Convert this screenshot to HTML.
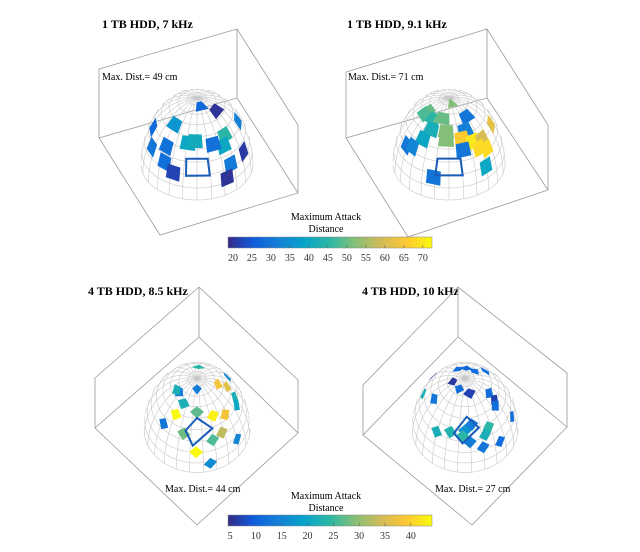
<!DOCTYPE html>
<html><head><meta charset="utf-8">
<style>
html,body{margin:0;padding:0;background:#fff;}
svg{display:block;font-family:"Liberation Serif",serif;}
</style></head>
<body>
<svg id="fig" width="640" height="552" viewBox="0 0 640 552" xmlns="http://www.w3.org/2000/svg">
<defs>
<linearGradient id="parula" x1="0" x2="1" y1="0" y2="0">
<stop offset="0" stop-color="#352a87"/><stop offset="0.125" stop-color="#0f5cdd"/>
<stop offset="0.25" stop-color="#1481d6"/><stop offset="0.375" stop-color="#06a4ca"/>
<stop offset="0.5" stop-color="#2eb7a4"/><stop offset="0.625" stop-color="#87bf77"/>
<stop offset="0.75" stop-color="#d1bb59"/><stop offset="0.875" stop-color="#fec832"/>
<stop offset="1" stop-color="#f9fb0e"/>
</linearGradient>
</defs>
<g>
<text x="102" y="28" font-size="12" font-weight="bold">1 TB HDD, 7 kHz</text>
<polyline fill="none" stroke="#9a9a9a" stroke-width="0.8" points="99,138 99,69 237,29 237,98 99,138 160,235 298,193 298,125 237,29"/>
<line x1="237" y1="98" x2="298" y2="193" stroke="#9a9a9a" stroke-width="0.8"/>
<g id="dome1"></g>
<text x="102" y="80" font-size="10">Max. Dist.= 49 cm</text>
</g>
<g>
<text x="347" y="28" font-size="12" font-weight="bold">1 TB HDD, 9.1 kHz</text>
<polyline fill="none" stroke="#9a9a9a" stroke-width="0.8" points="346,138 346,72 487,29 487,98 346,138 408,237 548,190 548,125 487,29"/>
<line x1="487" y1="98" x2="548" y2="190" stroke="#9a9a9a" stroke-width="0.8"/>
<g id="dome2"></g>
<text x="348" y="80" font-size="10">Max. Dist.= 71 cm</text>
</g>
<g>
<text x="88" y="295" font-size="12" font-weight="bold">4 TB HDD, 8.5 kHz</text>
<polyline fill="none" stroke="#9a9a9a" stroke-width="0.8" points="95,428 95,378 199,287 298,380 298,433 197,525 95,428 199,337 298,433"/>
<line x1="199" y1="287" x2="199" y2="337" stroke="#9a9a9a" stroke-width="0.8"/>
<g id="dome3"></g>
<text x="165" y="492" font-size="10">Max. Dist.= 44 cm</text>
</g>
<g>
<text x="362" y="295" font-size="12" font-weight="bold">4 TB HDD, 10 kHz</text>
<polyline fill="none" stroke="#9a9a9a" stroke-width="0.8" points="363,435 363,385 458,287 567,373 567,427 472,525 363,435 458,337 567,427"/>
<line x1="458" y1="287" x2="458" y2="337" stroke="#9a9a9a" stroke-width="0.8"/>
<g id="dome4"></g>
<text x="435" y="492" font-size="10">Max. Dist.= 27 cm</text>
</g>
<g>
<text x="326" y="220" font-size="10" text-anchor="middle">Maximum Attack</text>
<text x="326" y="232" font-size="10" text-anchor="middle">Distance</text>
<rect x="228" y="237" width="204" height="11" fill="url(#parula)" stroke="#888" stroke-width="0.5"/>
<g id="cbticks1"></g>
</g>
<g>
<text x="326" y="499" font-size="10" text-anchor="middle">Maximum Attack</text>
<text x="326" y="511" font-size="10" text-anchor="middle">Distance</text>
<rect x="228" y="515" width="204" height="11" fill="url(#parula)" stroke="#888" stroke-width="0.5"/>
<g id="cbticks2"></g>
</g>
</svg>
<script>
// Colour scales
const topTicks = [20,25,30,35,40,45,50,55,60,65,70];
const topClim = [18.7, 72.4];
const botTicks = [5,10,15,20,25,30,35,40];
const botClim = [4.6, 44.1];

// Panel 1: 1 TB, 7 kHz (azimuth deg, elevation deg, max distance cm)
const p1Az  = [20,62,-84,-45,-13,-3,45,38,23,-43,66,-40,-27,41,34,-66,88];
const p1El  = [78,66,37,55,44,46,45,38,42,36,23,24,19,22,13,27,42];
const p1Val = [28,20,28,36,40,41,45,40,29,29,21,29,22,31,20,30,32];
const p1RectAz = [-13,13,14,-12];
const p1RectEl = [32,32,19,19];

// Panel 2: 1 TB, 9.1 kHz
const p2Az  = [-63,-68,20,-38,-17,-32,-5,-4,-40,-63,-52,45,29,20,36,51,42,53,19,85,45,-17];
const p2El  = [65,60,82,62,65,53,54,47,43,30,33,63,53,47,42,40,35,31,38,40,19,17];
const p2Val = [50,48,52,45,50,42,52,52,40,30,33,30,32,66,70,60,68,68,30,62,40,30];
const p2RectAz = [-14,14,15,-15];
const p2RectEl = [32,32,19,19];

// Panel 3: 4 TB, 8.5 kHz
const p3Az  = [175,120,85,92,0,-58,-68,-31,84,76,0,-37,28,48,-50,-18,20,34,53,-1,15];
const p3El  = [70,48,66,55,77,66,65,60,44,39,55,48,49,44,34,35,29,32,17,20,8];
const p3Val = [24,16,38,36,14,14,22,22,22,20,27,44,43,38,13,28,26,33,15,44,16];
const p3RectAz = [0,22,-5,-16];
const p3RectEl = [50,39,26,38];

// Panel 4: 4 TB, 10 kHz
const p4Az  = [-155,175,140,131,-128,-80,-28,17,-98,-70,68,66,60,78,-39,-20,0,10,-3,6,34,27,22,45];
const p4El  = [72,73,73,59,40,76,76,72,37,51,60,52,48,24,31,36,39,44,34,29,37,32,22,19];
const p4Val = [12,11,12,12,6,6,12,7,22,13,12,7,12,12,22,23,17,14,24,14,24,22,13,12];
const p4RectAz = [3,20,-3,-15];
const p4RectEl = [51,40,28,36];

const STOPS = [[53,42,135],[15,92,221],[20,129,214],[6,164,202],[46,183,164],[135,191,119],[209,187,89],[254,200,50],[249,251,14]];
function parula(t){
  t=Math.max(0,Math.min(1,t));
  const f=t*(STOPS.length-1), i=Math.min(STOPS.length-2,Math.floor(f)), u=f-i;
  const c=STOPS[i].map((a,k)=>Math.round(a+(STOPS[i+1][k]-a)*u));
  return 'rgb('+c.join(',')+')';
}
const D=Math.PI/180;
function makeProj(P){
  return function(az,el){
    const t=az*D,p=el*D,e=P.e*D;
    const X=Math.cos(p)*Math.sin(t),Y=Math.cos(p)*Math.cos(t),Z=P.h*Math.sin(p);
    return {x:P.cx+P.R*X, y:P.cy-P.R*(Z*Math.cos(e)-Y*Math.sin(e)),
      vis:Math.cos(p)*Math.cos(t)*Math.cos(e)+Math.sin(p)/P.h*Math.sin(e)>0};
  };
}
const NS='http://www.w3.org/2000/svg';
function mk(tag,attrs,parent){const el=document.createElementNS(NS,tag);for(const k in attrs)el.setAttribute(k,attrs[k]);parent.appendChild(el);return el;}

function drawDome(gid,P,az,el,val,clim,rAz,rEl){
  const g=document.getElementById(gid), pr=makeProj(P);
  let gd='';
  function addLine(pts){let pen=false;for(const q of pts){if(q.vis){gd+=(pen?'L':'M')+q.x.toFixed(1)+' '+q.y.toFixed(1);pen=true;}else pen=false;}}
  for(let a=0;a<360;a+=15){const pts=[];for(let e=0;e<=90;e+=2)pts.push(pr(a+P.rot,e));addLine(pts);}
  for(let e=0;e<=80;e+=10){const pts=[];for(let a=0;a<=360;a+=3)pts.push(pr(a,e));addLine(pts);}
  const grid=mk('path',{d:gd,fill:'none',stroke:'#c8c8c8','stroke-width':'0.6'},g);
  
  
  for(let i=0;i<az.length;i++){
    const a=az[i],e=el[i],da=Math.min(24,7.5/Math.max(0.3,Math.cos(e*D))),de=5.5;
    let c;
    if(P.diamond) c=[pr(a,e+de),pr(a+da,e),pr(a,e-de),pr(a-da,e)];
    else c=[pr(a-da,e+de),pr(a+da,e+de),pr(a+da,e-de),pr(a-da,e-de)];
    if(!pr(a,e).vis) continue;
    const t=(val[i]-clim[0])/(clim[1]-clim[0]);
    const poly=mk('polygon',{points:c.map(q=>q.x.toFixed(1)+','+q.y.toFixed(1)).join(' '),fill:parula(t)},g);
    
    
  }
  const rc=[];for(let i=0;i<rAz.length;i++)rc.push(pr(rAz[i],rEl[i]));
  const rect=mk('polygon',{points:rc.map(q=>q.x.toFixed(1)+','+q.y.toFixed(1)).join(' '),fill:'none',stroke:'#1a5cb8','stroke-width':'2'},g);
  
  
}
drawDome('dome1',{cx:197,cy:164,R:56,e:40,h:1.54,rot:0,diamond:false},p1Az,p1El,p1Val,topClim,p1RectAz,p1RectEl);
drawDome('dome2',{cx:449,cy:164,R:56,e:40,h:1.54,rot:0,diamond:false},p2Az,p2El,p2Val,topClim,p2RectAz,p2RectEl);
drawDome('dome3',{cx:197,cy:429,R:53,e:55,h:1.67,rot:7,diamond:true},p3Az,p3El,p3Val,botClim,p3RectAz,p3RectEl);
drawDome('dome4',{cx:465,cy:429,R:53,e:55,h:1.67,rot:7,diamond:true},p4Az,p4El,p4Val,botClim,p4RectAz,p4RectEl);

function drawTicks(gid,ticks,clim,y){
  const g=document.getElementById(gid);
  const sx=v=>228+(v-clim[0])/(clim[1]-clim[0])*204;
  ticks.forEach(v=>{
    const tk=mk('line',{x1:sx(v),x2:sx(v),y1:y+8,y2:y+11,stroke:'#555','stroke-width':'0.5'},g);
    
    
    const tx=mk('text',{x:sx(v),y:y+24,'font-size':'10','text-anchor':'middle',fill:'#333'},g);
    tx.textContent=v;
    
    
  });
}
drawTicks('cbticks1',topTicks,topClim,237);
drawTicks('cbticks2',botTicks,botClim,515);
</script>
</body></html>
